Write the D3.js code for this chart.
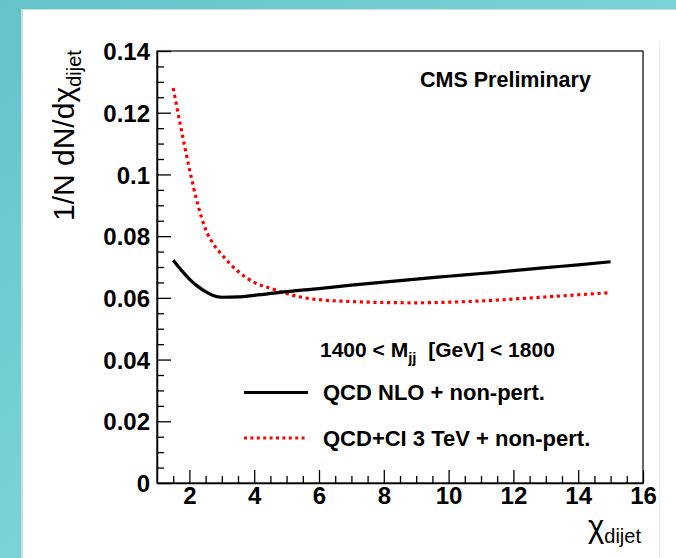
<!DOCTYPE html>
<html><head><meta charset="utf-8">
<script src="https://cdn.jsdelivr.net/npm/d3@7"></script>
<style>
html,body{margin:0;padding:0;background:#fff;}
svg{display:block;}
text{font-family:"Liberation Sans",Arial,Helvetica,sans-serif;}
</style></head>
<body>
<script>
// ---- data ----
const xQCD   = [1.5, 1.75, 2.0, 2.25, 2.5, 2.75, 3.0, 3.5, 4, 5, 6, 7, 8, 9, 10, 11, 12, 13, 14, 15];
const yQCD   = [0.0722, 0.0690, 0.0661, 0.0638, 0.0620, 0.0607, 0.0602, 0.0603, 0.0608, 0.0620, 0.0630, 0.0641, 0.0651, 0.0661, 0.0670, 0.0679, 0.0688, 0.0698, 0.0707, 0.0717];
const xCI    = [1.5, 1.75, 2.0, 2.25, 2.5, 2.75, 3.0, 3.5, 4.0, 4.5, 5, 5.5, 6, 7, 8, 9, 10, 11, 12, 13, 14, 15];
const yCI    = [0.128, 0.1145, 0.1018, 0.0906, 0.0822, 0.0773, 0.0740, 0.0686, 0.0650, 0.0631, 0.0614, 0.0601, 0.0594, 0.0588, 0.0585, 0.0584, 0.0586, 0.0590, 0.0596, 0.0603, 0.0610, 0.0617];
const xTicks = [2, 4, 6, 8, 10, 12, 14, 16];
const yTicks = [0, 0.02, 0.04, 0.06, 0.08, 0.1, 0.12, 0.14];
const yTickLabels = ["0", "0.02", "0.04", "0.06", "0.08", "0.1", "0.12", "0.14"];
const legendLabels = ["QCD NLO + non-pert.", "QCD+CI 3 TeV + non-pert."];

const W = 676, H = 558;
const svg = d3.select("body").append("svg").attr("width", W).attr("height", H);

// background
const grad = svg.append("defs").append("linearGradient").attr("id","tg").attr("x1",0).attr("x2",1).attr("y1",0).attr("y2",1);
grad.append("stop").attr("offset","0%").attr("stop-color","#63c3c9");
grad.append("stop").attr("offset","50%").attr("stop-color","#7ad3d6");
grad.append("stop").attr("offset","100%").attr("stop-color","#6ccad0");
svg.append("rect").attr("width", W).attr("height", H).attr("fill", "url(#tg)");
svg.append("rect").attr("x", 21).attr("y", 9).attr("width", W-21).attr("height", H-9).attr("fill", "#c9dede");
svg.append("rect").attr("x", 23).attr("y", 10).attr("width", W-23).attr("height", H-10).attr("fill", "#ffffff");
svg.append("line").attr("x1", 659.5).attr("x2", 659.5).attr("y1", 42).attr("y2", H).attr("stroke", "#ececec").attr("stroke-width", 1);

// scales
const x = d3.scaleLinear().domain([1, 16]).range([157, 643]);
const y = d3.scaleLinear().domain([0, 0.14]).range([483, 51]);

// frame
svg.append("rect").attr("x", 157).attr("y", 51).attr("width", 486).attr("height", 432)
  .attr("fill", "none").attr("stroke", "#000").attr("stroke-width", 1.2);

// x axis
const xMinor = d3.range(1.5, 16, 0.5).filter(v => v % 2 !== 0);
const gx = svg.append("g").attr("transform", "translate(0,483)");
gx.call(d3.axisBottom(x).tickValues(xTicks).tickSize(-13).tickSizeOuter(0).tickPadding(4).tickFormat(d3.format("d")));
const gxm = svg.append("g").attr("transform", "translate(0,483)");
gxm.call(d3.axisBottom(x).tickValues(xMinor).tickSize(-7).tickSizeOuter(0).tickFormat(""));
gxm.select(".domain").remove();

// y axis
const yMinor = d3.range(0.005, 0.14, 0.005).filter(v => Math.abs(v/0.02 - Math.round(v/0.02)) > 1e-6);
const gy = svg.append("g").attr("transform", "translate(157,0)");
gy.call(d3.axisLeft(y).tickValues(yTicks).tickSize(-14).tickSizeOuter(0).tickPadding(7).tickFormat((d,i) => yTickLabels[i]));
const gym = svg.append("g").attr("transform", "translate(157,0)");
gym.call(d3.axisLeft(y).tickValues(yMinor).tickSize(-7).tickSizeOuter(0).tickFormat(""));
gym.select(".domain").remove();

svg.selectAll(".tick line").attr("stroke", "#000").attr("stroke-width", 1.3);
svg.selectAll(".domain").attr("stroke", "#000").attr("stroke-width", 1.5);
svg.selectAll(".tick text").attr("fill", "#000").attr("font-size", 24).attr("font-weight", "bold")
  .attr("font-family", "Liberation Sans, Arial, sans-serif");
gy.selectAll(".tick text").attr("dy", "0.36em");

// curves
const line = d3.line().x(d => x(d[0])).y(d => y(d[1])).curve(d3.curveMonotoneX);
svg.append("path").datum(xCI.map((v,i) => [v, yCI[i]])).attr("d", line)
  .attr("fill", "none").attr("stroke", "#ff0000").attr("stroke-width", 3.2).attr("stroke-dasharray", "3.2,3.6");
svg.append("path").datum(xQCD.map((v,i) => [v, yQCD[i]])).attr("d", line)
  .attr("fill", "none").attr("stroke", "#000").attr("stroke-width", 3.2);

// CMS Preliminary
svg.append("text").attr("x", 420).attr("y", 87).attr("font-size", 21.5).attr("font-weight", "bold").text("CMS Preliminary");

// legend header
const hdr = svg.append("text").attr("x", 320).attr("y", 357).attr("font-size", 21).attr("font-weight", "bold");
hdr.append("tspan").text("1400 < M");
hdr.append("tspan").attr("font-size", 15).attr("dy", 6).text("jj");
hdr.append("tspan").attr("dy", -6).text("\u00a0 [GeV] < 1800");

// legend entries
svg.append("line").attr("x1", 244).attr("x2", 308).attr("y1", 392.5).attr("y2", 392.5)
  .attr("stroke", "#000").attr("stroke-width", 3.2);
svg.append("text").attr("x", 323).attr("y", 400).attr("font-size", 22).attr("font-weight", "bold").text(legendLabels[0]);
svg.append("line").attr("x1", 244).attr("x2", 308).attr("y1", 438).attr("y2", 438)
  .attr("stroke", "#ff0000").attr("stroke-width", 3).attr("stroke-dasharray", "3,3.4");
svg.append("text").attr("x", 323).attr("y", 446).attr("font-size", 22).attr("font-weight", "bold").text(legendLabels[1]);

// x title
const xt = svg.append("text").attr("x", 588).attr("y", 537).attr("font-size", 31);
xt.append("tspan").text("\u03c7");
xt.append("tspan").attr("font-size", 20).attr("dy", 6).text("dijet");

// y title
const yt = svg.append("text").attr("transform", "translate(74,221) rotate(-90)").attr("font-size", 30);
yt.append("tspan").text("1/N dN/d\u03c7");
yt.append("tspan").attr("font-size", 20).attr("dy", 7).text("dijet");
</script>
</body></html>
